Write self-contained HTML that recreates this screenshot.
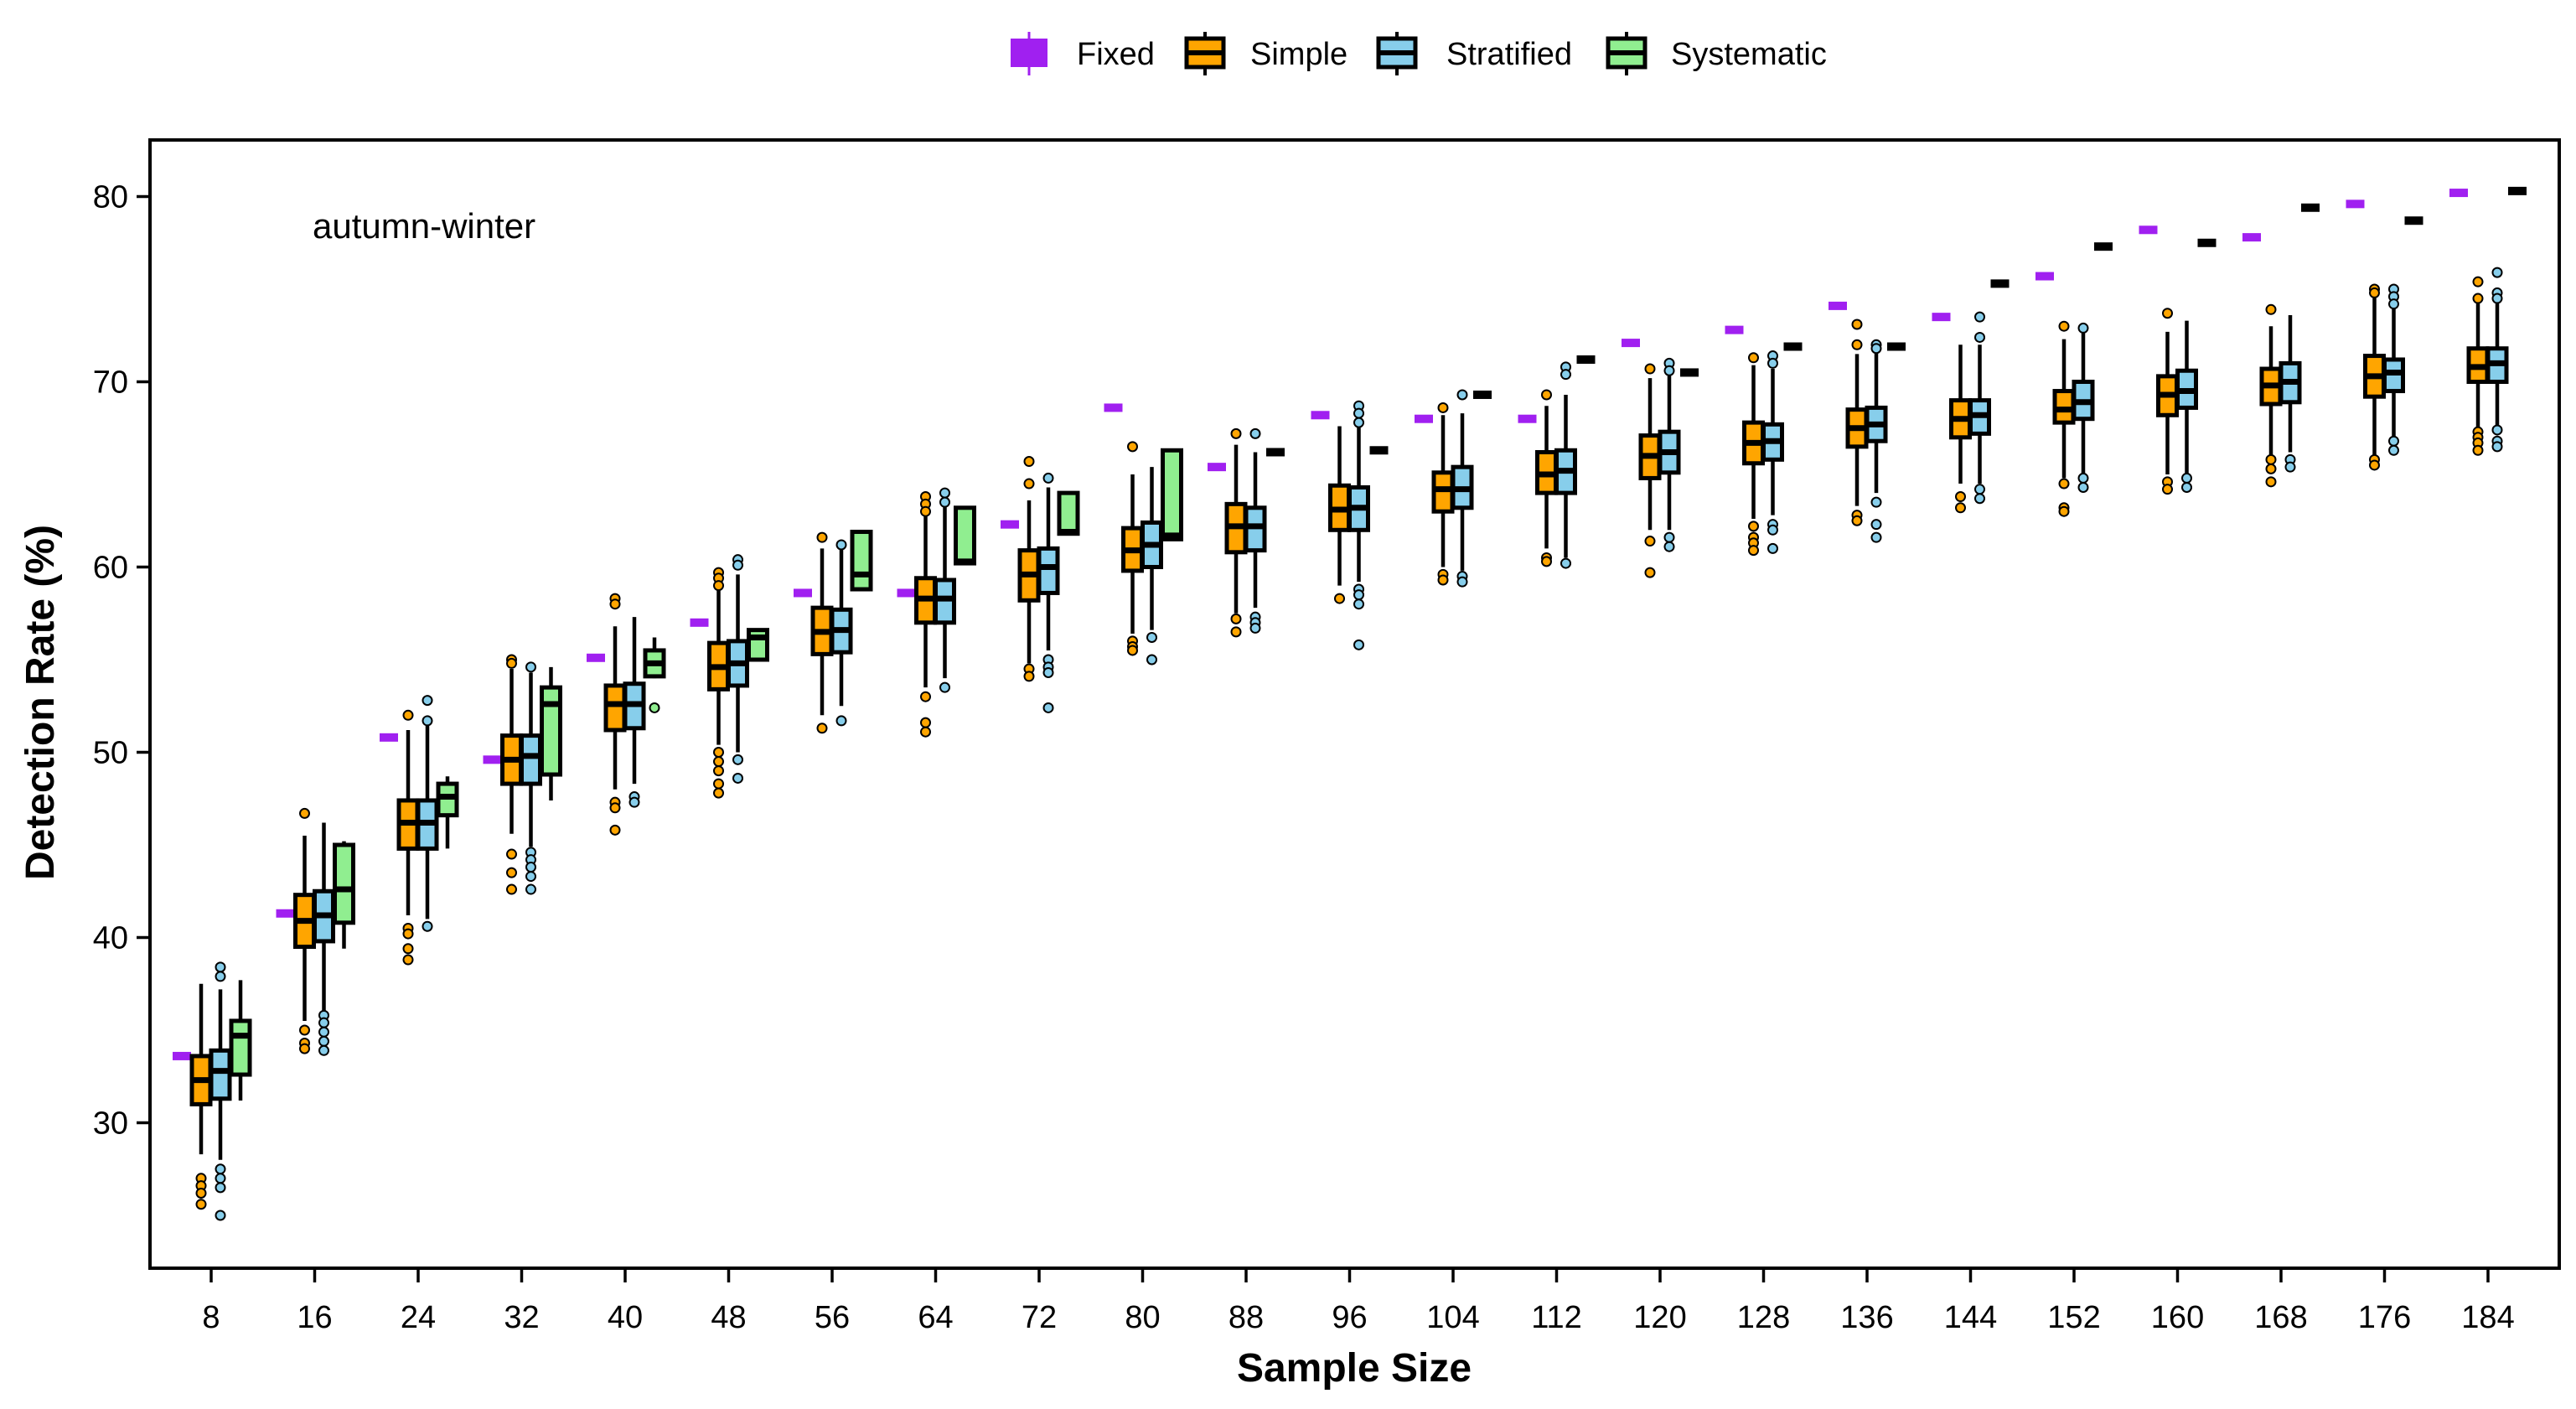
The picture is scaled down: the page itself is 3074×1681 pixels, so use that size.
<!DOCTYPE html>
<html><head><meta charset="utf-8"><style>
html,body{margin:0;padding:0;background:#fff;}
svg{display:block;font-family:"Liberation Sans",Arial,sans-serif;}
</style></head><body>
<svg id="chart" width="3074" height="1681" viewBox="0 0 3074 1681" xmlns="http://www.w3.org/2000/svg">
<g id="legend">
 <g>
  <line x1="1228" y1="38" x2="1228" y2="90" stroke="#a020f0" stroke-width="3"/>
  <rect x="1206" y="46" width="44" height="34" fill="#a020f0"/>
  <text x="1285" y="77" font-size="38">Fixed</text>
 </g>
 <g>
  <line x1="1438" y1="38" x2="1438" y2="90" stroke="#000" stroke-width="4"/>
  <rect x="1416" y="46" width="44" height="34" fill="#ffa500" stroke="#000" stroke-width="5"/>
  <line x1="1416" y1="63" x2="1460" y2="63" stroke="#000" stroke-width="6"/>
  <text x="1492" y="77" font-size="38">Simple</text>
 </g>
 <g>
  <line x1="1667" y1="38" x2="1667" y2="90" stroke="#000" stroke-width="4"/>
  <rect x="1645" y="46" width="44" height="34" fill="#87ceeb" stroke="#000" stroke-width="5"/>
  <line x1="1645" y1="63" x2="1689" y2="63" stroke="#000" stroke-width="6"/>
  <text x="1726" y="77" font-size="38">Stratified</text>
 </g>
 <g>
  <line x1="1941" y1="38" x2="1941" y2="90" stroke="#000" stroke-width="4"/>
  <rect x="1919" y="46" width="44" height="34" fill="#90ee90" stroke="#000" stroke-width="5"/>
  <line x1="1919" y1="63" x2="1963" y2="63" stroke="#000" stroke-width="6"/>
  <text x="1994" y="77" font-size="38">Systematic</text>
 </g>
</g>
<rect x="179" y="167" width="2875" height="1346" fill="none" stroke="#000" stroke-width="4"/>
<text x="373" y="284" font-size="42">autumn-winter</text>
<text x="1616" y="1648" font-size="48" font-weight="bold" text-anchor="middle">Sample Size</text>
<text x="0" y="0" font-size="48" font-weight="bold" text-anchor="middle" transform="translate(64,838) rotate(-90)">Detection Rate (%)</text>
<g id="axes"></g>
<g id="marks"></g>
</svg>
<script>
const categories=[8,16,24,32,40,48,56,64,72,80,88,96,104,112,120,128,136,144,152,160,168,176,184];
const yTicks=[30,40,50,60,70,80];
const fixedVals=[33.6,41.3,50.8,49.6,55.1,57.0,58.6,58.6,62.3,68.6,65.4,68.2,68.0,68.0,72.1,72.8,74.1,73.5,75.7,78.2,77.8,79.6,80.2];
// [lo,q1,med,q3,hi]
const simpleStats=[[28.3,31.0,32.3,33.6,37.5],[35.5,39.5,40.9,42.3,45.5],[41.2,44.8,46.2,47.4,51.2],[45.6,48.3,49.6,50.9,54.5],[48.0,51.2,52.6,53.6,56.8],[50.4,53.4,54.6,55.9,59.0],[52.0,55.3,56.5,57.8,61.0],[53.5,57.0,58.3,59.4,63.0],[54.8,58.2,59.6,60.9,63.6],[56.4,59.8,60.9,62.1,65.0],[57.5,60.8,62.2,63.4,66.6],[59.0,62.0,63.1,64.4,67.6],[60.0,63.0,64.2,65.1,68.2],[61.0,64.0,65.0,66.2,68.7],[62.0,64.8,66.0,67.1,70.2],[62.6,65.6,66.7,67.8,70.9],[63.3,66.5,67.5,68.5,71.5],[64.5,67.0,68.0,69.0,72.0],[64.8,67.8,68.5,69.5,72.3],[65.0,68.2,69.3,70.3,72.7],[66.0,68.8,69.8,70.7,73.0],[66.0,69.2,70.3,71.4,74.6],[67.5,70.0,70.8,71.8,74.6]];
const simpleOut=[[27.0,26.6,26.2,25.6],[46.7,35.0,34.3,34.0],[52.0,40.5,40.2,39.4,38.8],[55.0,54.8,44.5,43.5,42.6],[58.3,58.0,47.3,47.0,45.8],[59.7,59.4,59.0,50.0,49.5,49.0,48.3,47.8],[61.6,51.3],[63.8,63.4,63.0,53.0,51.6,51.1],[65.7,64.5,54.5,54.1],[66.5,56.0,55.7,55.5],[67.2,57.2,56.5],[58.3],[68.6,59.6,59.3],[69.3,60.5,60.3],[70.7,61.4,59.7],[71.3,62.2,61.6,61.3,60.9],[73.1,72.0,62.8,62.5],[63.8,63.2],[73.0,64.5,63.2,63.0],[73.7,64.6,64.2],[73.9,65.8,65.3,64.6],[75.0,74.8,65.8,65.5],[75.4,74.5,67.3,67.0,66.7,66.3]];
const stratStats=[[28.0,31.3,32.8,33.9,37.2],[36.0,39.8,41.2,42.5,46.2],[41.0,44.8,46.2,47.4,51.5],[44.9,48.3,49.8,50.9,54.3],[48.3,51.3,52.6,53.7,57.3],[50.0,53.6,54.8,56.0,59.6],[52.5,55.4,56.6,57.7,61.0],[54.0,57.0,58.3,59.3,63.5],[55.5,58.6,60.0,61.0,64.3],[56.6,60.0,61.2,62.4,65.4],[57.8,60.9,62.2,63.2,66.2],[59.2,62.0,63.2,64.3,68.0],[59.8,63.2,64.2,65.4,68.3],[60.5,64.0,65.2,66.3,69.3],[62.0,65.1,66.2,67.3,70.4],[62.8,65.8,66.8,67.7,70.7],[64.0,66.8,67.7,68.6,71.7],[64.5,67.2,68.2,69.0,72.0],[65.0,68.0,68.9,70.0,72.7],[65.0,68.6,69.5,70.6,73.3],[66.2,68.9,70.0,71.0,73.6],[66.5,69.5,70.5,71.2,74.0],[67.5,70.0,71.0,71.8,74.8]];
const stratOut=[[38.4,37.9,27.5,27.0,26.5,25.0],[35.8,35.4,34.9,34.4,33.9],[52.8,51.7,40.6],[54.6,44.6,44.2,43.8,43.3,42.6],[47.6,47.3],[60.4,60.1,49.6,48.6],[61.2,51.7],[64.0,63.5,53.5],[64.8,55.0,54.6,54.3,52.4],[56.2,55.0],[67.2,57.3,57.0,56.7],[68.7,68.3,67.8,58.8,58.5,58.0,55.8],[69.3,59.5,59.2],[70.8,70.4,60.2],[71.0,70.6,61.6,61.1],[71.4,71.0,62.3,62.0,61.0],[72.0,71.8,63.5,62.3,61.6],[73.5,72.4,64.2,63.7],[72.9,64.8,64.3],[64.8,64.3],[65.8,65.4],[75.0,74.6,74.2,66.8,66.3],[75.9,74.8,74.5,67.4,66.8,66.5]];
const systStats=[[31.2,32.6,34.7,35.5,37.7],[39.4,40.8,42.6,45.0,45.2],[44.8,46.6,47.6,48.3,48.7],[47.4,48.8,52.6,53.5,54.6],[54.0,54.1,54.8,55.5,56.2],[55.0,55.0,56.2,56.6,56.6],[58.8,58.8,59.6,61.9,61.9],[60.2,60.2,60.3,63.2,63.2],[61.8,61.8,61.9,64.0,64.0],[61.5,61.5,61.7,66.3,66.3],[66.2,66.2,66.2,66.2,66.2],[66.3,66.3,66.3,66.3,66.3],[69.3,69.3,69.3,69.3,69.3],[71.2,71.2,71.2,71.2,71.2],[70.5,70.5,70.5,70.5,70.5],[71.9,71.9,71.9,71.9,71.9],[71.9,71.9,71.9,71.9,71.9],[75.3,75.3,75.3,75.3,75.3],[77.3,77.3,77.3,77.3,77.3],[77.5,77.5,77.5,77.5,77.5],[79.4,79.4,79.4,79.4,79.4],[78.7,78.7,78.7,78.7,78.7],[80.3,80.3,80.3,80.3,80.3]];
const systOut=[[],[],[],[],[52.4],[],[],[],[],[],[],[],[],[],[],[],[],[],[],[],[],[],[]];

const NS='http://www.w3.org/2000/svg';
const X0=252, XSTEP=123.5, Y80=234.5, YUNIT=22.1;
function xs(i){return X0+i*XSTEP;}
function ys(v){return Y80+(80-v)*YUNIT;}
function mk(tag,attrs,parent){const e=document.createElementNS(NS,tag);for(const k in attrs)e.setAttribute(k,attrs[k]);parent.appendChild(e);return e;}
const axes=document.getElementById('axes'), marks=document.getElementById('marks');
yTicks.forEach(t=>{
  const l=mk('line',{x1:163,x2:179,y1:ys(t),y2:ys(t),stroke:'#000','stroke-width':3.5},axes);
  
  
  const tx=mk('text',{x:153,y:ys(t)+13,'font-size':38,'text-anchor':'end'},axes);
  tx.textContent=t;
  
  
});
categories.forEach((c,i)=>{
  const l=mk('line',{x1:xs(i),x2:xs(i),y1:1513,y2:1530,stroke:'#000','stroke-width':3.5},axes);
  
  
  const tx=mk('text',{x:xs(i),y:1584,'font-size':38,'text-anchor':'middle'},axes);
  tx.textContent=c;
  
  
});
const BW=22;
function box(cx,s,outs,fill,oc,name){
  const g=mk('g',{},marks);
  
  
  if(s[0]===s[4]){
    mk('rect',{x:cx-BW/2,y:ys(s[2])-5,width:BW,height:10,fill:'#000'},g);
    return;
  }
  mk('line',{x1:cx,x2:cx,y1:ys(s[4]),y2:ys(s[0]),stroke:'#000','stroke-width':4.5},g);
  mk('rect',{x:cx-BW/2,y:ys(s[3]),width:BW,height:Math.max(ys(s[1])-ys(s[3]),1),fill:fill,stroke:'#000','stroke-width':5},g);
  mk('line',{x1:cx-BW/2,x2:cx+BW/2,y1:ys(s[2]),y2:ys(s[2]),stroke:'#000','stroke-width':7},g);
  outs.forEach(o=>{
    const c=mk('circle',{cx:cx,cy:ys(o),r:5.5,fill:oc,stroke:'#000','stroke-width':2},g);
    
    
  });
}
categories.forEach((c,i)=>{
  const x=xs(i);
  const f=mk('rect',{x:x-46,y:ys(fixedVals[i])-5,width:22,height:10,fill:'#a020f0'},marks);
  
  
  box(x-12,simpleStats[i],simpleOut[i],'#ffa500','#ffa500','simple-box');
  box(x+11,stratStats[i],stratOut[i],'#87ceeb','#87ceeb','stratified-box');
  box(x+35,systStats[i],systOut[i],'#90ee90','#90ee90','systematic-box');
});
</script>
</body></html>
